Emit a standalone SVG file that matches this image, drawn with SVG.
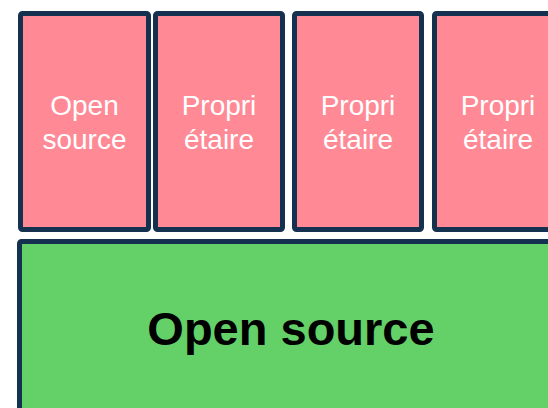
<svg xmlns="http://www.w3.org/2000/svg" width="548" height="408" viewBox="0 0 548 408">
<style>
.box{fill:#FF8A96;stroke:#14314F;stroke-width:5}
.base{fill:#63D168;stroke:#14314F;stroke-width:5}
.lbl{font-family:"Liberation Sans",Arial,sans-serif;font-size:28px;fill:#ffffff;text-anchor:middle}
.big{font-family:"Liberation Sans",Arial,sans-serif;font-size:47px;font-weight:bold;fill:#000000;text-anchor:middle}
</style>
<rect width="548" height="408" fill="#ffffff"/>
<g id="connectors"></g>
<g id="n1">
<rect class="box" x="20.5" y="13.5" width="128" height="216" rx="2"/>
<text class="lbl" x="84.5" y="115">Open</text>
<text class="lbl" x="84.5" y="149">source</text>
</g>
<g id="n2">
<rect class="box" x="155.5" y="13.5" width="127" height="216" rx="2"/>
<text class="lbl" x="219" y="115">Propri</text>
<text class="lbl" x="219" y="149">étaire</text>
</g>
<g id="n3">
<rect class="box" x="294.5" y="13.5" width="127" height="216" rx="2"/>
<text class="lbl" x="358" y="115">Propri</text>
<text class="lbl" x="358" y="149">étaire</text>
</g>
<g id="n4">
<rect class="box" x="434.5" y="13.5" width="127" height="216" rx="2"/>
<text class="lbl" x="498" y="115">Propri</text>
<text class="lbl" x="498" y="149">étaire</text>
</g>
<g id="n5">
<rect class="base" x="19.5" y="241.5" width="560" height="180" rx="2"/>
<text class="big" x="291" y="345">Open source</text>
</g>
</svg>
